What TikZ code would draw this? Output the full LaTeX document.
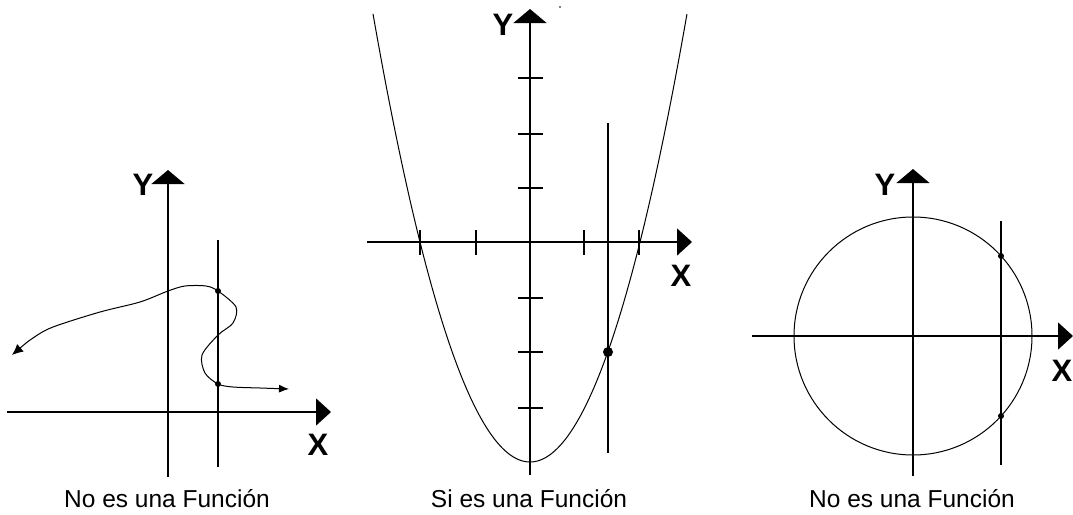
\documentclass[tikz,border=0pt]{standalone}
\usepackage{fontspec}
\setmainfont{Liberation Sans}
\usetikzlibrary{arrows.meta}
\begin{document}
\begin{tikzpicture}[x=1pt,y=-1pt,
  axis/.style={line width=1.4pt},
  yax/.style={axis,-{Triangle[length=14pt,width=33pt]}},
  xax/.style={axis,-{Triangle[length=15pt,width=27pt]}},
  curve/.style={line width=1pt},
  vline/.style={line width=1.2pt},
  tick/.style={line width=1.3pt},
  lab/.style={font=\bfseries\fontsize{31}{31}\selectfont, inner sep=0pt},
  capt/.style={font=\fontsize{24.5}{24.5}\selectfont, inner sep=0pt, anchor=base},
  dot/.style={circle,fill,inner sep=0pt,minimum size=6pt}]
\useasboundingbox (0,0) rectangle (1073,514);

% ---------- left graph ----------
\coordinate (L-yb) at (168,477); \coordinate (L-yt) at (168,170);
\coordinate (L-xl) at (7,412);   \coordinate (L-xr) at (331,412);
\draw[yax] (L-yb) -- (L-yt);
\draw[xax] (L-xl) -- (L-xr);
\coordinate (L-vt) at (218,240); \coordinate (L-vb) at (218,467);
\draw[vline] (L-vt) -- (L-vb);
\draw[curve,{Latex[length=11pt,width=10pt]}-{Latex[length=10pt,width=8pt]}]
  plot[smooth,tension=0.5] coordinates {(12,355) (33,338) (53,327) (100,312) (140,302) (168,291)
   (185,286) (206,286) (218,291) (236,307) (233,323) (218,335) (202,355) (205,373)
   (218,384) (233,387) (260,388) (289,389)};
\node[dot] (L-p1) at (218,291) {};
\node[dot] (L-p2) at (218,384) {};
\node[lab] (L-Y) at (143,185) {Y};
\node[lab] (L-X) at (318,445) {X};
\node[capt] (L-cap) at (167,507) {No es una Función};

% ---------- middle graph ----------
\coordinate (M-yb) at (530,475); \coordinate (M-yt) at (530,9);
\coordinate (M-xl) at (367,242); \coordinate (M-xr) at (692,242);
\draw[yax] (M-yb) -- (M-yt);
\draw[xax] (M-xl) -- (M-xr);
\foreach \t in {420,476,584,639} \draw[tick] (\t,230) -- (\t,255);
\foreach \t in {78,134,188,298,352,408} \draw[tick] (518,\t) -- (543,\t);
\draw[curve] plot[domain=-1.57:1.57,samples=120] ({100*\x+530},{462-181.8*\x*\x});
\coordinate (M-vt) at (608,123); \coordinate (M-vb) at (608,453);
\draw[vline] (M-vt) -- (M-vb);
\node[dot,minimum size=10pt] (M-p) at (608,352) {};
\fill (560,7) circle (0.8);
\node[lab] (M-Y) at (503,25) {Y};
\node[lab] (M-X) at (681,276) {X};
\node[capt] (M-cap) at (529,507) {Si es una Función};

% ---------- right graph ----------
\node[draw,circle,minimum size=238pt,inner sep=0pt,line width=1pt] (R-circ) at (913,336) {};
\coordinate (R-yb) at (913,476); \coordinate (R-yt) at (913,169);
\coordinate (R-xl) at (752,336); \coordinate (R-xr) at (1073,336);
\draw[yax] (R-yb) -- (R-yt);
\draw[xax] (R-xl) -- (R-xr);
\coordinate (R-vt) at (1001,221); \coordinate (R-vb) at (1001,465);
\draw[vline] (R-vt) -- (R-vb);
\node[dot] (R-p1) at (1001,256) {};
\node[dot] (R-p2) at (1001,416) {};
\node[lab] (R-Y) at (885,185) {Y};
\node[lab] (R-X) at (1062,371) {X};
\node[capt] (R-cap) at (912,507) {No es una Función};
\end{tikzpicture}
\end{document}
